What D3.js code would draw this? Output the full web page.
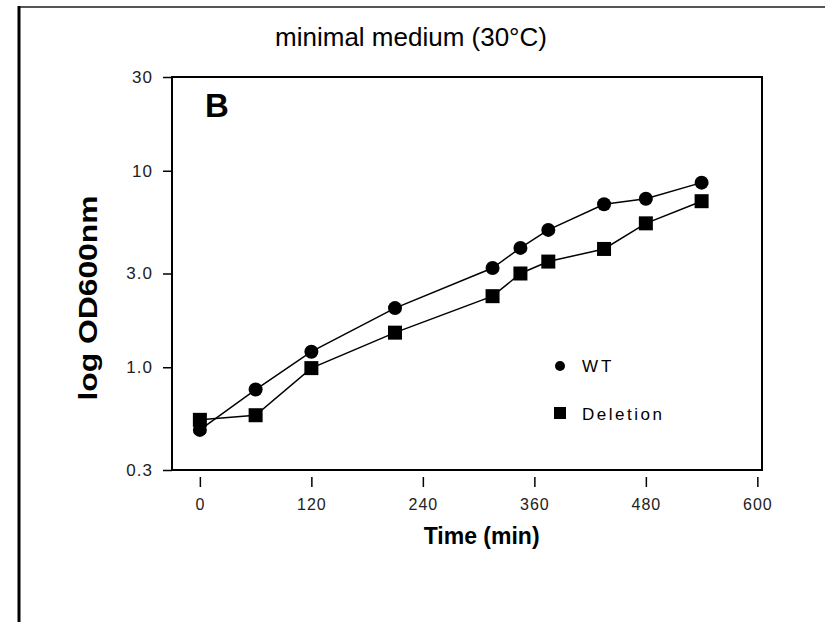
<!DOCTYPE html>
<html>
<head>
<meta charset="utf-8">
<script src="https://cdn.jsdelivr.net/npm/d3@7"></script>
<style>
  body { margin: 0; background: #fff; }
  svg { display: block; font-family: "Liberation Sans", Arial, Helvetica, sans-serif; }
  .tick text { fill: #222; }
</style>
</head>
<body>
<div class="svg-container"></div>
<script>
// sampling times (min)
var times = [0, 60, 120, 210, 315, 345, 375, 435, 480, 540];
// OD600 readings
var wtValues = [0.48, 0.77, 1.2, 2.0, 3.2, 4.05, 5.0, 6.75, 7.2, 8.7];
var deletionValues = [0.54, 0.57, 0.99, 1.5, 2.3, 3.0, 3.45, 4.0, 5.4, 7.0];

var xTicks = [0, 120, 240, 360, 480, 600];
var yTicks = [0.3, 1.0, 3.0, 10, 30];
var yTickLabels = ["0.3", "1.0", "3.0", "10", "30"];

function render() {
    var width = 825;
    var height = 622;
    var plotLeft = 172, plotRight = 762, plotTop = 77, plotBottom = 470;

    var svg = d3.select(".svg-container").append("svg")
        .attr("width", width)
        .attr("height", height);

    // outer frame (scanned figure border)
    svg.append("line")
        .attr("x1", 19).attr("y1", 7).attr("x2", width).attr("y2", 7)
        .attr("stroke", "#555").attr("stroke-width", 2);
    svg.append("line")
        .attr("x1", 19).attr("y1", 6).attr("x2", 19).attr("y2", height)
        .attr("stroke", "#000").attr("stroke-width", 3);

    // title
    svg.append("text")
        .attr("x", 411)
        .attr("y", 46)
        .style("text-anchor", "middle")
        .style("font-size", "26px")
        .text("minimal medium (30\u00B0C)");

    // scales
    var x = d3.scaleLinear().domain([-30, 605]).range([plotLeft, plotRight]);
    var y = d3.scaleLog().domain([0.3, 30]).range([plotBottom, plotTop]);

    // plot box
    svg.append("rect")
        .attr("x", plotLeft).attr("y", plotTop)
        .attr("width", plotRight - plotLeft).attr("height", plotBottom - plotTop)
        .attr("fill", "none")
        .attr("stroke", "#000")
        .attr("stroke-width", 2);

    // Y axis
    var yAxis = svg.append("g")
        .attr("transform", "translate(" + plotLeft + ",0)")
        .call(d3.axisLeft(y)
            .tickValues(yTicks)
            .tickFormat(function(d, i) { return yTickLabels[i]; })
            .tickSize(9)
            .tickSizeOuter(0)
            .tickPadding(10));
    yAxis.select(".domain").remove();
    yAxis.selectAll(".tick line").attr("stroke-width", 1.5);
    yAxis.selectAll(".tick text")
        .style("font-size", "17px")
        .style("letter-spacing", "1px")
        .style("font-family", "Liberation Sans, Arial, sans-serif");

    // X axis (detached ticks below the box)
    var xAxis = svg.append("g")
        .attr("transform", "translate(0," + (plotBottom + 7) + ")")
        .call(d3.axisBottom(x)
            .tickValues(xTicks)
            .tickSize(10)
            .tickSizeOuter(0)
            .tickPadding(12));
    xAxis.select(".domain").remove();
    xAxis.selectAll(".tick line").attr("stroke-width", 1.5);
    xAxis.selectAll(".tick text")
        .style("font-size", "16px")
        .style("letter-spacing", "1px")
        .style("font-family", "Liberation Sans, Arial, sans-serif");

    // axis labels
    svg.append("text")
        .attr("x", x(300) + 3)
        .attr("y", 544)
        .style("text-anchor", "middle")
        .style("font-size", "23px")
        .style("font-weight", "bold")
        .text("Time (min)");

    svg.append("text")
        .attr("transform", "rotate(-90)")
        .attr("x", -298)
        .attr("y", 97)
        .style("text-anchor", "middle")
        .style("font-size", "25px")
        .style("font-weight", "bold")
        .attr("textLength", 205)
        .attr("lengthAdjust", "spacingAndGlyphs")
        .text("log OD600nm");

    // panel letter
    svg.append("text")
        .attr("x", 205)
        .attr("y", 117)
        .style("font-size", "33px")
        .style("font-weight", "bold")
        .text("B");

    var line = d3.line()
        .x(function(d) { return x(d[0]); })
        .y(function(d) { return y(d[1]); });

    var wtData = times.map(function(t, i) { return [t, wtValues[i]]; });
    var delData = times.map(function(t, i) { return [t, deletionValues[i]]; });

    svg.append("path")
        .datum(wtData)
        .attr("d", line)
        .attr("fill", "none")
        .attr("stroke", "#000")
        .attr("stroke-width", 1.5);

    svg.append("path")
        .datum(delData)
        .attr("d", line)
        .attr("fill", "none")
        .attr("stroke", "#000")
        .attr("stroke-width", 1.5);

    svg.selectAll(".sq")
        .data(delData)
        .enter().append("rect")
        .attr("class", "sq")
        .attr("x", function(d) { return x(d[0]) - 7; })
        .attr("y", function(d) { return y(d[1]) - 7; })
        .attr("width", 14)
        .attr("height", 14)
        .attr("fill", "#000");

    svg.selectAll(".dot")
        .data(wtData)
        .enter().append("circle")
        .attr("class", "dot")
        .attr("cx", function(d) { return x(d[0]); })
        .attr("cy", function(d) { return y(d[1]); })
        .attr("r", 7)
        .attr("fill", "#000");

    // legend
    var legend = svg.append("g").attr("transform", "translate(560,0)");
    legend.append("circle").attr("cx", 0).attr("cy", 366).attr("r", 5).attr("fill", "#000");
    legend.append("text")
        .attr("x", 22).attr("y", 372)
        .style("font-size", "17px")
        .style("letter-spacing", "3px")
        .text("WT");
    legend.append("rect").attr("x", -6).attr("y", 407).attr("width", 12).attr("height", 12).attr("fill", "#000");
    legend.append("text")
        .attr("x", 22).attr("y", 420)
        .style("font-size", "17px")
        .style("letter-spacing", "2.5px")
        .text("Deletion");
}

render();
</script>
</body>
</html>
